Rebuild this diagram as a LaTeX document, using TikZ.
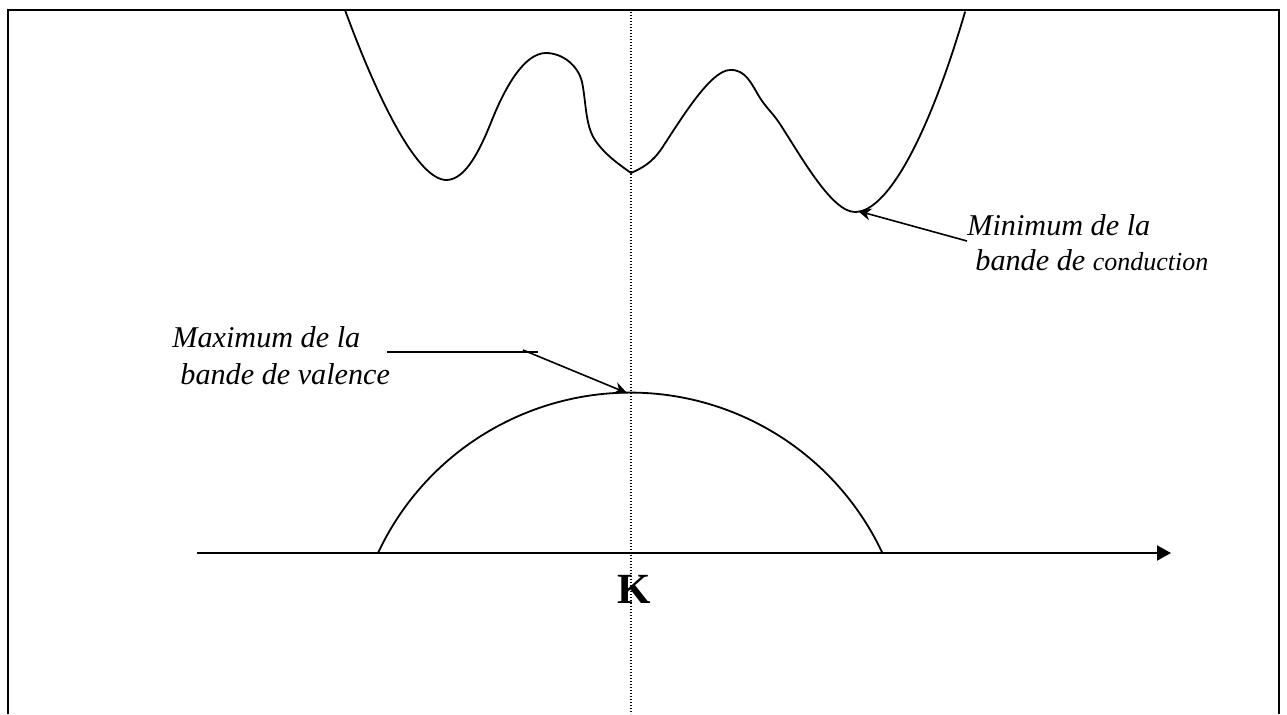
\documentclass[tikz,border=0pt]{standalone}
\usepackage{fontspec}
\setmainfont{Liberation Serif}
\usetikzlibrary{arrows.meta}
\begin{document}
\begin{tikzpicture}[x=0.5pt,y=-0.5pt,
  frameline/.style={line width=0.6pt},
  bandline/.style={line width=0.9pt, line join=round, line cap=round},
  pointer/.style={line width=0.8pt, -{Stealth[length=6.5pt,width=6pt,inset=2.2pt]}},
  axisline/.style={line width=1pt, -{Triangle[length=7pt,width=7.5pt]}},
  guide/.style={line width=0.6pt, dash pattern=on 0.6pt off 0.9pt},
  lbl/.style={font=\fontsize{15.1}{18}\selectfont\itshape, inner sep=0pt, anchor=base west},
  klbl/.style={font=\fontsize{21.5}{24}\selectfont\bfseries, inner sep=0pt, anchor=base}
]
\useasboundingbox (0,0) rectangle (1287,714);
% frame
\draw[frameline] (8,714) -- (8,10) -- (1279,10) -- (1279,714);
\draw[line width=0.9pt] (8,10) -- (247,10);
\draw[line width=0.9pt] (1089,10) -- (1279,10);
% vertical guide through K
\draw[guide] (631,12) -- (631,714);
% conduction band
\draw[bandline] (345,10)
  .. controls (378,100) and (418,181) .. (447,180)
  .. controls (466,179) and (480,150) .. (492,120)
  .. controls (506,85) and (525,53) .. (546,53)
  .. controls (562,53) and (578,65) .. (582,82)
  .. controls (586,100) and (585,125) .. (595,140)
  .. controls (605,155) and (620,165) .. (631,173)
  .. controls (642,168) and (652,163) .. (662,148)
  .. controls (678,124) and (710,70) .. (730,70)
  .. controls (746,69) and (752,85) .. (760,98)
  .. controls (768,110) and (772,112) .. (780,124)
  .. controls (802,158) and (832,212) .. (855,212)
  .. controls (890,212) and (932,125) .. (965,12);
% valence band
\draw[bandline] (378,553) arc[start angle=154.9, end angle=25.1, radius=139.25pt];
% axis
\coordinate (axs) at (197,553);
\coordinate (axe) at (1171,553);
\draw[axisline] (axs) -- (axe);
\node[klbl] (k) at (634.5,603) {K};
% labels
\node[lbl] (cb1) at (967,235) {Minimum de la};
\node[lbl] (cb2) at (975,270) {bande de {\fontsize{13}{15}\selectfont conduction}};
\node[lbl] (vb1) at (172,347) {Maximum de la};
\node[lbl] (vb2) at (180,384) {bande de valence};
% pointers
\coordinate (cbstart) at (967,241);
\coordinate (cbmin) at (858,211);
\draw[pointer] (cbstart) -- (cbmin);
\coordinate (vbl) at (387,352);
\coordinate (vbr) at (538,352);
\draw[line width=0.8pt] (vbl) -- (vbr);
\coordinate (vbstart) at (523,350);
\coordinate (vbmax) at (627,393);
\draw[pointer] (vbstart) -- (vbmax);
\end{tikzpicture}
\end{document}
